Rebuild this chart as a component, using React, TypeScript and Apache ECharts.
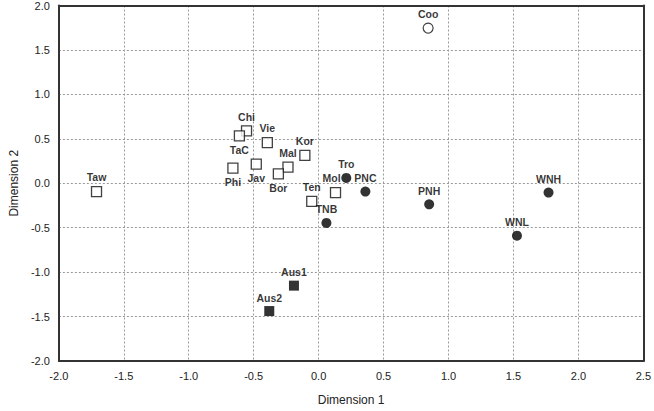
import React, { useEffect, useRef } from "react";
import * as echarts from "echarts";

// Open squares
const openSqNames = ["Taw", "Chi", "TaC", "Vie", "Kor", "Mal", "Phi", "Jav", "Bor", "Ten", "Mol"];
const openSqX = [-1.71, -0.555, -0.61, -0.395, -0.106, -0.236, -0.66, -0.48, -0.31, -0.053, 0.13];
const openSqY = [-0.094, 0.59, 0.534, 0.457, 0.314, 0.182, 0.171, 0.215, 0.105, -0.204, -0.105];

// Filled circles
const fillCircNames = ["Tro", "PNC", "TNB", "PNH", "WNH", "WNL"];
const fillCircX = [0.213, 0.36, 0.06, 0.851, 1.77, 1.527];
const fillCircY = [0.06, -0.094, -0.446, -0.237, -0.105, -0.59];

// Open circle
const openCircNames = ["Coo"];
const openCircX = [0.843];
const openCircY = [1.746];

// Filled squares
const fillSqNames = ["Aus1", "Aus2"];
const fillSqX = [-0.19, -0.38];
const fillSqY = [-1.152, -1.438];

// label placement per point (style)
const labelPos: Record<string, any> = {
  TaC: { position: "bottom" },
  Phi: { position: "bottom" },
  Jav: { position: "bottom" },
  Bor: { position: "bottom" },
  Mol: { position: "top", offset: [-4, 0] },
};

function build(names: string[], xs: number[], ys: number[]) {
  return names.map((n, i) => {
    const item: any = { name: n, value: [xs[i], ys[i]] };
    if (labelPos[n]) item.label = labelPos[n];
    return item;
  });
}

const FONT = "Liberation Sans, Arial, sans-serif";

export default function App() {
  const ref = useRef<HTMLDivElement>(null);
  useEffect(() => {
    const chart = echarts.init(ref.current!, null, { renderer: "svg" });
    const labelStyle = {
      show: true,
      position: "top",
      distance: 3,
      formatter: "{b}",
      fontFamily: FONT,
      fontWeight: "bold",
      fontSize: 10.5,
      color: "#000",
    };
    const axisLabel = {
      fontFamily: FONT,
      fontSize: 11,
      color: "#222",
    };
    const splitLine = { show: true, lineStyle: { color: "#999", type: [2, 2], width: 1 } };
    const border = { show: true, onZero: false, lineStyle: { color: "#333", width: 2 } };
    const hiddenAxisBits = {
      axisTick: { show: false },
      axisLabel: { show: false },
      splitLine: { show: false },
    };
    chart.setOption({
      animation: false,
      backgroundColor: "#fff",
      grid: {
        left: 53,
        right: 9,
        top: 5,
        bottom: 43,
        show: false,
      },
      xAxis: [
        {
          type: "value",
          min: -2,
          max: 2.5,
          interval: 0.5,
          position: "bottom",
          name: "Dimension 1",
          nameLocation: "middle",
          nameGap: 33,
          nameTextStyle: { fontFamily: FONT, fontSize: 12, color: "#222" },
          axisLine: border,
          axisTick: { show: false },
          axisLabel: { ...axisLabel, margin: 9, formatter: (v: number) => v.toFixed(1) },
          splitLine,
        },
        {
          type: "value",
          min: -2,
          max: 2.5,
          interval: 0.5,
          position: "top",
          axisLine: border,
          ...hiddenAxisBits,
        },
      ],
      yAxis: [
        {
          type: "value",
          min: -2,
          max: 2,
          interval: 0.5,
          position: "left",
          name: "Dimension 2",
          nameLocation: "middle",
          nameGap: 36,
          nameRotate: 90,
          nameTextStyle: { fontFamily: FONT, fontSize: 12, color: "#222" },
          axisLine: border,
          axisTick: { show: false },
          axisLabel: { ...axisLabel, margin: 9, formatter: (v: number) => v.toFixed(1) },
          splitLine,
        },
        {
          type: "value",
          min: -2,
          max: 2,
          interval: 0.5,
          position: "right",
          axisLine: border,
          ...hiddenAxisBits,
        },
      ],
      series: [
        {
          type: "scatter",
          symbol: "rect",
          symbolSize: 10,
          itemStyle: { color: "#fff", borderColor: "#111", borderWidth: 1.3 },
          label: labelStyle,
          data: build(openSqNames, openSqX, openSqY),
        },
        {
          type: "scatter",
          symbol: "circle",
          symbolSize: 10,
          itemStyle: { color: "#000" },
          label: labelStyle,
          data: build(fillCircNames, fillCircX, fillCircY),
        },
        {
          type: "scatter",
          symbol: "circle",
          symbolSize: 10,
          itemStyle: { color: "#fff", borderColor: "#111", borderWidth: 1.2 },
          label: labelStyle,
          data: build(openCircNames, openCircX, openCircY),
        },
        {
          type: "scatter",
          symbol: "rect",
          symbolSize: 10,
          itemStyle: { color: "#000" },
          label: labelStyle,
          data: build(fillSqNames, fillSqX, fillSqY),
        },
      ],
    });
    return () => chart.dispose();
  }, []);
  return <div ref={ref} style={{ width: 654, height: 411, position: "absolute", left: 0, top: 0 }} />;
}
